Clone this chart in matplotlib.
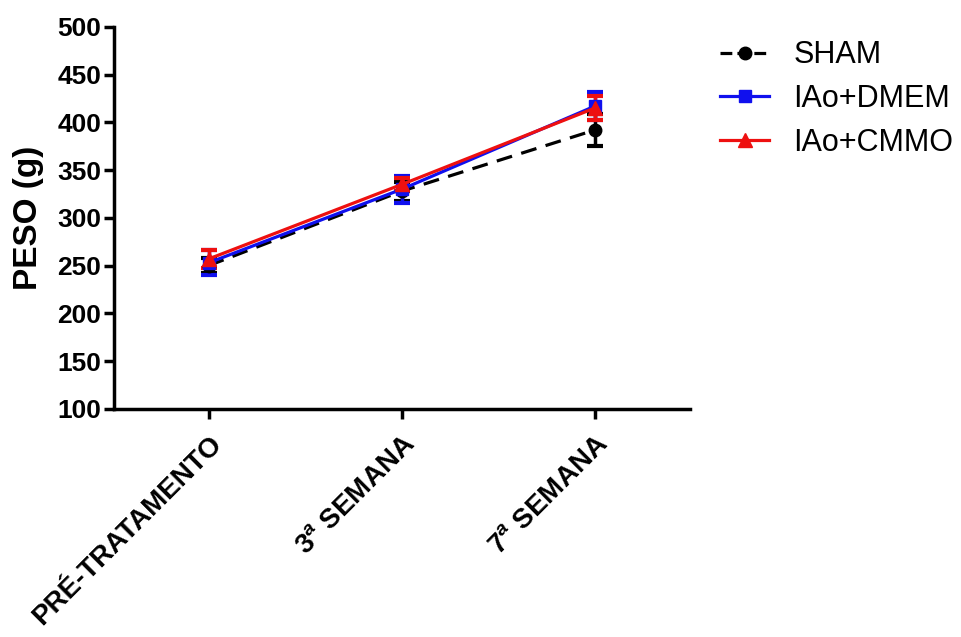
import numpy as np
import matplotlib.pyplot as plt
from matplotlib.lines import Line2D

plt.rcParams['font.family'] = ['Liberation Sans', 'DejaVu Sans']
plt.rcParams['mathtext.fontset'] = 'custom'
plt.rcParams['mathtext.rm'] = 'Liberation Sans:bold'
plt.rcParams['mathtext.it'] = 'Liberation Sans:bold:italic'

categories = ["PRÉ-TRATAMENTO", r"3$^a$ SEMANA", r"7$^a$ SEMANA"]
sham = [250, 328, 392]
sham_err = [8, 10, 17]
dmem = [253, 330, 417]
dmem_err = [13, 14, 15]
cmmo = [257, 335, 415]
cmmo_err = [9, 7, 13]

x = np.arange(len(categories))

fig = plt.figure(figsize=(9.62, 6.37), dpi=100)
ax = fig.add_axes([0.1185, 0.358, 0.5985, 0.6])

blue = '#1010ee'
red = '#ee1010'
ax.errorbar(x, sham, yerr=sham_err, color='black', ls='--', lw=2.3, marker='o', ms=9,
            capsize=6, capthick=3, elinewidth=2.5, dashes=(5, 3))
ax.errorbar(x, dmem, yerr=dmem_err, color=blue, ls='-', lw=2.3, marker='s', ms=9,
            capsize=6, capthick=3, elinewidth=2.5)
ax.errorbar(x, cmmo, yerr=cmmo_err, color=red, ls='-', lw=2.3, marker='^', ms=10,
            capsize=6, capthick=3, elinewidth=2.5)

ax.set_xlim(-0.49, 2.49)
ax.set_ylim(100, 500)
ax.set_yticks(np.arange(100, 501, 50))
ax.set_xticks(x)
ax.set_xticklabels(categories, rotation=45, ha='right', rotation_mode='anchor',
                   fontsize=20, fontweight='bold')
for lab in ax.get_yticklabels():
    lab.set_fontweight('bold')
    lab.set_fontsize(19)
ax.set_ylabel('PESO (g)', fontsize=24, fontweight='bold', labelpad=10)

for s in ['top', 'right']:
    ax.spines[s].set_visible(False)
for s in ['left', 'bottom']:
    ax.spines[s].set_linewidth(2.5)
ax.tick_params(width=2.5, length=7, pad=2)
ax.tick_params(axis='x', pad=9)

handles = [
    Line2D([], [], color='black', ls='--', lw=2.3, marker='o', ms=9),
    Line2D([], [], color=blue, ls='-', lw=2.3, marker='s', ms=9),
    Line2D([], [], color=red, ls='-', lw=2.3, marker='^', ms=10),
]
fig.legend(handles, ['SHAM', 'IAo+DMEM', 'IAo+CMMO'], loc='upper left',
           bbox_to_anchor=(0.72, 0.98), frameon=False, fontsize=22,
           handlelength=1.6, handletextpad=0.8, labelspacing=0.45)

fig.savefig('out.png', dpi=100)
